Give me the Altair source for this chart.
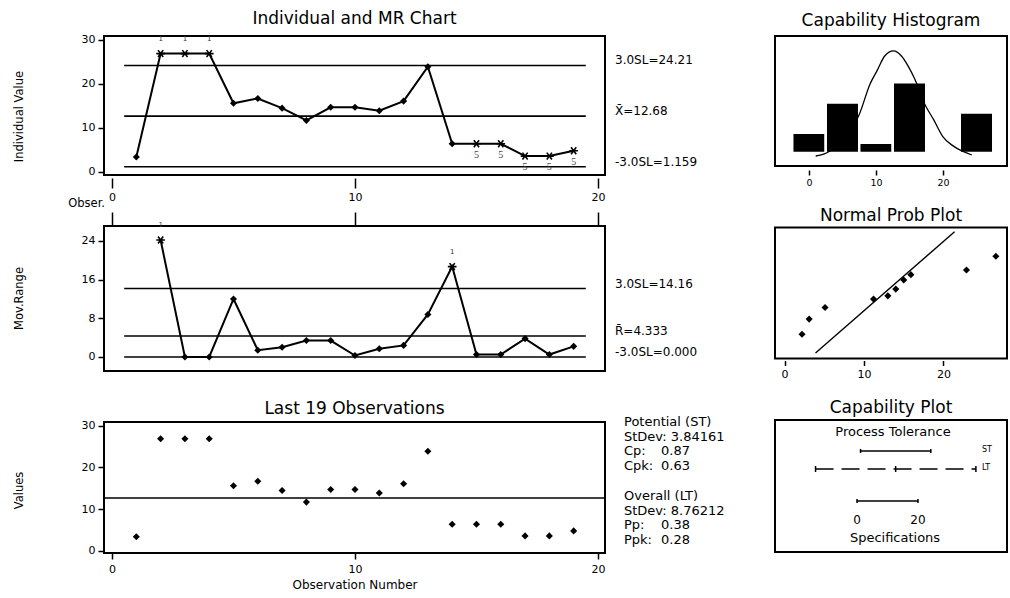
import altair as alt
import pandas as pd

# ---------------- data ----------------
obs = list(range(1, 20))
individual = [3.4, 26.9, 26.9, 26.9, 15.6, 16.7, 14.5, 11.7, 14.7, 14.7,
              13.9, 16.1, 23.9, 6.4, 6.4, 6.4, 3.6, 3.6, 4.8]
# failed special-cause test printed beside each point ("" = none)
individual_tests = ["", "1", "1", "1", "", "", "", "", "", "",
                    "", "", "", "", "5", "5", "5", "5", "5"]

mr_obs = list(range(2, 20))
moving_range = [24.2, 0.0, 0.0, 12.0, 1.4, 2.0, 3.4, 3.4, 0.3,
                1.7, 2.4, 8.8, 18.7, 0.5, 0.5, 3.8, 0.5, 2.2]
mr_tests = ["1", "", "", "", "", "", "", "", "",
            "", "", "", "1", "", "", "", "", ""]

ind_limits = [24.21, 12.68, 1.159]
ind_limit_text = ["3.0SL=24.21", "X\u0304=12.68", "-3.0SL=1.159"]
mr_limits = [14.16, 4.333, 0.0]
mr_limit_text = ["3.0SL=14.16", "R\u0304=4.333", "-3.0SL=0.000"]
process_mean = 12.68

hist_lo = [-2.5, 2.5, 7.5, 12.5, 17.5, 22.5]
hist_hi = [2.5, 7.5, 12.5, 17.5, 22.5, 27.5]
hist_count = [2, 5, 1, 7, 0, 4]
curve_x = [1.0, 2.6, 7.5, 9.1, 10.2, 11.3, 12.6, 13.8, 14.8, 15.8,
           17.3, 18.6, 20.0, 21.5, 22.8, 24.3]
curve_y = [-0.3, 0.0, 3.8, 6.8, 8.2, 9.6, 10.1, 9.6, 8.6, 7.3,
           4.8, 3.3, 1.6, 0.7, 0.2, -0.2]

prob_x = [2.2, 3.1, 5.1, 11.2, 13.0, 14.0, 15.0, 15.9, 22.9, 26.6]
prob_score = [-2.06, -1.32, -0.75, -0.34, -0.18, 0.15, 0.60, 0.86, 1.09, 1.76]
fit_x = [3.9, 21.4]
fit_score = [-2.98, 2.96]

st_tolerance = [1.159, 24.21]
lt_tolerance = [-13.6, 39.0]
spec_limits = [0, 20]

st_stdev, cp, cpk = "3.84161", "0.87", "0.63"
lt_stdev, pp, ppk = "8.76212", "0.38", "0.28"

# ---------------- layout ----------------
LW, H1, H2, H3 = 501, 139, 145, 131
RW, HH, HN, HC = 232, 130, 131, 132
FONT = "DejaVu Sans"
OBS_DOMAIN = [-0.33, 20.29]
STAR = "M-1,0L1,0M-0.6,-0.8L0.6,0.8M-0.6,0.8L0.6,-0.8"


def obs_x(axis):
    return alt.X("obs:Q", scale=alt.Scale(domain=OBS_DOMAIN, nice=False, zero=False), axis=axis)


def value_y(domain, axis):
    return alt.Y("value:Q", scale=alt.Scale(domain=domain, nice=False, zero=False), axis=axis)


def anchor(x, y):
    # white full stop that fixes the outer edge of a column's bounding box
    return alt.Chart(pd.DataFrame({"t": ["."]})).mark_text(
        align="left", baseline="top", fontSize=13, font=FONT, color="white").encode(
        x=alt.value(x), y=alt.value(y), text="t:N")


def panel_title(text, width, y):
    return alt.Chart(pd.DataFrame({"t": [text]})).mark_text(
        align="center", baseline="middle", fontSize=17, font=FONT, color="black").encode(
        x=alt.value(width / 2), y=alt.value(y), text="t:N")


def control_panel(df, lim_df, x_enc, y_enc, width):
    limits = alt.Chart(lim_df).mark_rule(color="black", strokeWidth=1.6).encode(
        x=x_enc, x2="obs_end:Q", y=y_enc)
    line = alt.Chart(df).mark_line(color="black", strokeWidth=2).encode(x=x_enc, y=y_enc)
    plain = alt.Chart(df).transform_filter("datum.test == ''").mark_point(
        shape="diamond", filled=True, color="black", size=50, opacity=1).encode(x=x_enc, y=y_enc)
    flagged = alt.Chart(df).transform_filter("datum.test != ''").mark_point(
        shape=STAR, filled=False, color="black", size=75, strokeWidth=1.6, opacity=1).encode(x=x_enc, y=y_enc)
    test1 = alt.Chart(df).transform_filter("datum.test == '1'").mark_text(
        dy=-15, fontSize=7, font=FONT, color="#333").encode(x=x_enc, y=y_enc, text="test:N")
    test5 = alt.Chart(df).transform_filter("datum.test == '5'").mark_text(
        dy=11, fontSize=10, font="Liberation Serif", color="#444").encode(x=x_enc, y=y_enc, text="test:N")
    lim_text = alt.Chart(lim_df).mark_text(
        align="left", baseline="middle", dy=-5, fontSize=12, font=FONT, color="black").encode(
        x=alt.value(width + 10), y=y_enc, text="text:N")
    return [limits, line, plain, flagged, test1, test5, lim_text]


# Individual chart
ind_df = pd.DataFrame({"obs": obs, "value": individual, "test": individual_tests})
ind_lim_df = pd.DataFrame({"value": ind_limits, "text": ind_limit_text,
                           "obs": obs[0] - 0.5, "obs_end": obs[-1] + 0.5})
x1 = obs_x(alt.Axis(values=[0, 10, 20], tickSize=10, offset=3, labelPadding=3, title=None))
y1 = value_y([-0.7, 30.9], alt.Axis(values=[0, 10, 20, 30], tickSize=6, labelPadding=3,
                                    title="Individual Value", titleX=-85, titleY=80, titleAngle=270,
                                    titleAlign="center", titleBaseline="middle"))
obser = alt.Chart(pd.DataFrame({"obs": [0], "text": ["Obser."]})).mark_text(
    align="right", baseline="middle", dx=-7, fontSize=11.5, font=FONT, color="black").encode(
    x=x1, y=alt.value(H1 + 29), text="text:N")
p1 = alt.layer(*control_panel(ind_df, ind_lim_df, x1, y1, LW), obser,
               panel_title("Individual and MR Chart", LW, -17),
               anchor(-100, -35)).properties(width=LW, height=H1)

# Moving range chart
mr_df = pd.DataFrame({"obs": mr_obs, "value": moving_range, "test": mr_tests})
mr_lim_df = pd.DataFrame({"value": mr_limits, "text": mr_limit_text,
                          "obs": obs[0] - 0.5, "obs_end": obs[-1] + 0.5})
x2 = obs_x(alt.Axis(orient="top", values=[0, 10, 20], tickSize=14, labels=False, title=None))
y2 = value_y([-2.9, 27.1], alt.Axis(values=[0, 8, 16, 24], tickSize=6, labelPadding=3,
                                    title="Mov.Range", titleX=-85, titleY=72, titleAngle=270,
                                    titleAlign="center", titleBaseline="middle"))
p2 = alt.layer(*control_panel(mr_df, mr_lim_df, x2, y2, LW)).properties(width=LW, height=H2)

# Last observations
x3 = obs_x(alt.Axis(values=[0, 10, 20], tickSize=6, labelPadding=4, title="Observation Number",
                    titlePadding=5, titleFontSize=12))
y3 = value_y([-0.5, 30.9], alt.Axis(values=[0, 10, 20, 30], tickSize=6, labelPadding=3,
                                    title="Values", titleX=-85, titleY=68, titleAngle=270,
                                    titleAlign="center", titleBaseline="middle"))
mean_rule = alt.Chart(pd.DataFrame({"value": [process_mean]})).mark_rule(
    color="black", strokeWidth=1.3).encode(y=y3)
last_pts = alt.Chart(ind_df).mark_point(shape="diamond", filled=True, color="black",
                                         size=50, opacity=1).encode(x=x3, y=y3)

LINE_H = 14.5


def stats_text(lines, x, y):
    return alt.Chart(pd.DataFrame({"text": ["\n".join(lines)]})).mark_text(
        align="left", baseline="top", lineBreak="\n", lineHeight=LINE_H,
        fontSize=13, font=FONT, color="black").encode(
        x=alt.value(x), y=alt.value(y), text="text:N")


ST_Y, LT_Y = -6, 68
p3 = alt.layer(
    mean_rule, last_pts,
    stats_text(["Potential (ST)", "StDev: " + st_stdev, "Cp:", "Cpk:"], LW + 19, ST_Y),
    stats_text([cp, cpk], LW + 56, ST_Y + 2 * LINE_H),
    stats_text(["Overall (LT)", "StDev: " + lt_stdev, "Pp:", "Ppk:"], LW + 19, LT_Y),
    stats_text([pp, ppk], LW + 56, LT_Y + 2 * LINE_H),
    panel_title("Last 19 Observations", LW, -13),
    anchor(LW + 140, 0),
).properties(width=LW, height=H3)

# Capability histogram
hist_df = pd.DataFrame({"x": hist_lo, "x_end": hist_hi, "y": hist_count})
curve_df = pd.DataFrame({"x": curve_x, "y": curve_y})
xh = alt.X("x:Q", scale=alt.Scale(domain=[-5.07, 29.55], nice=False, zero=False),
           axis=alt.Axis(values=[0, 10, 20], tickSize=5, offset=4, labelPadding=2,
                         labelFontSize=9.5, title=None))
yh = alt.Y("y:Q", scale=alt.Scale(domain=[-1.29, 11.58], nice=False, zero=False), axis=None)
bars = alt.Chart(hist_df).mark_bar(color="black", stroke="white", strokeWidth=2.5).encode(
    x=xh, x2="x_end:Q", y=yh, y2=alt.datum(0))
curve = alt.Chart(curve_df).mark_line(color="black", strokeWidth=1.3, interpolate="monotone").encode(
    x=xh, y=yh)
ph = alt.layer(bars, curve, panel_title("Capability Histogram", RW, -15),
               anchor(0, -28)).properties(width=RW, height=HH)

# Normal probability plot
prob_df = pd.DataFrame({"x": prob_x, "score": prob_score})
fit_df = pd.DataFrame({"x": fit_x, "score": fit_score})
xn = alt.X("x:Q", scale=alt.Scale(domain=[-1.2, 28.0], nice=False, zero=False),
           axis=alt.Axis(values=[0, 10, 20], tickSize=5, offset=2, labelPadding=3, title=None))
yn = alt.Y("score:Q", scale=alt.Scale(domain=[-3.25, 3.17], nice=False, zero=False), axis=None)
fit_line = alt.Chart(fit_df).mark_line(color="black", strokeWidth=1.4).encode(x=xn, y=yn)
prob_pts = alt.Chart(prob_df).mark_point(shape="diamond", filled=True, color="black",
                                          size=50, opacity=1).encode(x=xn, y=yn)
pn = alt.layer(fit_line, prob_pts, panel_title("Normal Prob Plot", RW, -11.5)).properties(
    width=RW, height=HN)

# Capability plot
xc_scale = alt.Scale(domain=[-26.9, 49.2], nice=False, zero=False)


def span(lo, hi, y, dash=None):
    kw = {"strokeDash": dash} if dash else {}
    return alt.Chart(pd.DataFrame({"x": [lo], "x_end": [hi]})).mark_rule(
        color="black", strokeWidth=1.5, **kw).encode(
        x=alt.X("x:Q", scale=xc_scale, axis=None), x2="x_end:Q", y=alt.value(y))


def end_ticks(values, y, half):
    return alt.Chart(pd.DataFrame({"x": values})).mark_rule(color="black", strokeWidth=1.5).encode(
        x=alt.X("x:Q", scale=xc_scale, axis=None), y=alt.value(y - half), y2=alt.value(y + half))


def label(text, x, y, size, align="center"):
    return alt.Chart(pd.DataFrame({"text": [text]})).mark_text(
        align=align, baseline="middle", fontSize=size, font=FONT, color="black").encode(
        x=alt.value(x), y=alt.value(y), text="text:N")


spec_text = alt.Chart(pd.DataFrame({"x": spec_limits, "text": [str(v) for v in spec_limits]})).mark_text(
    baseline="middle", fontSize=12, font=FONT, color="black").encode(
    x=alt.X("x:Q", scale=xc_scale, axis=None), y=alt.value(100), text="text:N")

pc = alt.layer(
    span(st_tolerance[0], st_tolerance[1], 31),
    end_ticks(st_tolerance, 31, 2),
    span(lt_tolerance[0], lt_tolerance[1], 49, dash=[18, 8]),
    end_ticks(lt_tolerance + [process_mean], 49, 3),
    span(spec_limits[0], spec_limits[1], 81),
    end_ticks(spec_limits, 81, 2),
    spec_text,
    label("Process Tolerance", RW / 2 + 2, 12, 13),
    label("Specifications", RW / 2 + 4, 118, 13),
    label("ST", 207, 30, 8, "left"),
    label("LT", 207, 48, 8, "left"),
    panel_title("Capability Plot", RW, -12),
).properties(width=RW, height=HC)

left = alt.vconcat(p1, p2, p3, spacing=51, bounds="flush")
right = alt.vconcat(ph, pn, pc, spacing=61.5, bounds="flush")

chart = alt.hconcat(left, right, spacing=23).properties(
    padding={"left": 3, "top": 0, "right": 0, "bottom": 0}
).configure_view(stroke="black", strokeWidth=2).configure_axis(
    grid=False, domain=False, tickColor="black", tickWidth=1.5,
    labelColor="black", labelFont=FONT, labelFontSize=11,
    titleColor="black", titleFont=FONT, titleFontSize=11.5, titleFontWeight="normal"
)

chart.save("out.html", embed_options={"renderer": "svg", "actions": False})
